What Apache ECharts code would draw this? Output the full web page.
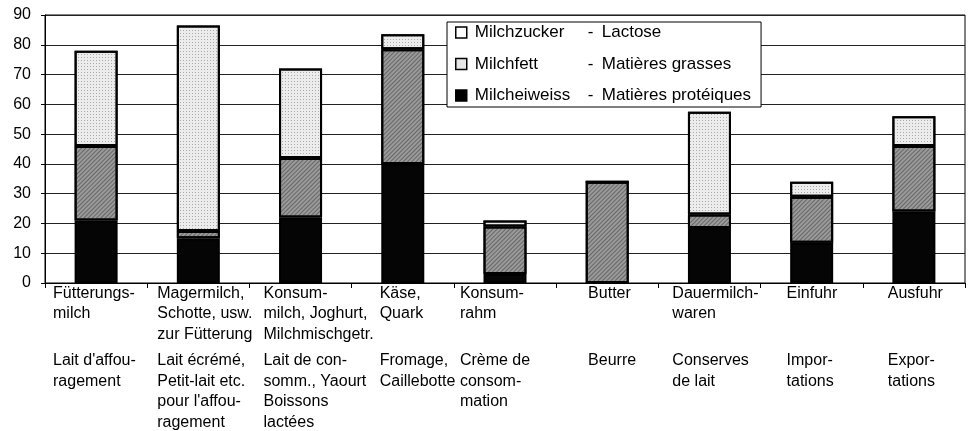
<!DOCTYPE html>
<html>
<head>
<meta charset="utf-8">
<script src="https://cdn.jsdelivr.net/npm/echarts@6/dist/echarts.min.js"></script>
<style>
html,body{margin:0;padding:0;background:#fff;}
#chart{width:973px;height:431px;}
</style>
</head>
<body>
<div id="chart"></div>
<script>
// ---- data ----
var categories = ["Fütterungsmilch","Magermilch, Schotte","Konsummilch","Käse, Quark","Konsumrahm","Butter","Dauermilchwaren","Einfuhr","Ausfuhr"];
var germanLabels = [
  ["Fütterungs-","milch"],
  ["Magermilch,","Schotte, usw.","zur Fütterung"],
  ["Konsum-","milch, Joghurt,","Milchmischgetr."],
  ["Käse,","Quark"],
  ["Konsum-","rahm"],
  ["Butter"],
  ["Dauermilch-","waren"],
  ["Einfuhr"],
  ["Ausfuhr"]
];
var frenchLabels = [
  ["Lait d'affou-","ragement"],
  ["Lait écrémé,","Petit-lait etc.","pour l'affou-","ragement"],
  ["Lait de con-","somm., Yaourt","Boissons","lactées"],
  ["Fromage,","Caillebotte"],
  ["Crème de","consom-","mation"],
  ["Beurre"],
  ["Conserves","de lait"],
  ["Impor-","tations"],
  ["Expor-","tations"]
];
var protein = [21, 15, 22, 40, 3, 0, 18.5, 13.5, 24];
var fat     = [25, 2.5, 20, 38.5, 16, 34, 4.5, 15.5, 22];
var lactose = [32, 69, 30, 5, 2, 0, 34.5, 5, 10];
var seriesNames = ["Milchzucker","Milchfett","Milcheiweiss"];
var seriesFrench = ["Lactose","Matières grasses","Matières protéiques"];
var yTicks = {min:0, max:90, interval:10};

// ---- layout helpers (label left offsets within each band) ----
var labelOffset = [8,10,14,28,6,32,14,26,25];
var TOTAL = 200;
var font = 'Liberation Sans';
var rich = {s:{lineHeight:6,fontSize:1}};
labelOffset.forEach(function(off,i){
  var p = off - 51.1 + TOTAL/2;
  rich['t'+i] = {align:'left', width: TOTAL - p, padding:[0,0,0,p], lineHeight:20.5, fontSize:16, fontFamily:font, color:'#000'};
});

var chart = echarts.init(document.getElementById('chart'), null, {renderer:'canvas'});
var option = {
  animation:false,
  backgroundColor:'#fff',
  textStyle:{fontFamily:font},
  grid:{left:45,right:8,top:15,bottom:148,containLabel:false,outerBoundsMode:'none',
    show:true,borderColor:'#000',borderWidth:1,backgroundColor:'transparent'},
  legend:{
    orient:'vertical', left:447, top:22,
    padding:[2,10,3,8],
    itemGap:14.5, itemWidth:11, itemHeight:11,
    backgroundColor:'#fff', borderColor:'#000', borderWidth:1,
    selectedMode:false,
    data:[
      {name:seriesNames[0], icon:'rect', itemStyle:{color:'#fff',borderColor:'#000',borderWidth:1.5,decal:'none'}},
      {name:seriesNames[1], icon:'rect', itemStyle:{color:'#e6e6e6',borderColor:'#000',borderWidth:1.5,decal:'none'}},
      {name:seriesNames[2], icon:'rect', itemStyle:{color:'#000',borderColor:'#000',borderWidth:1.5,decal:'none'}}
    ],
    formatter:function(name){
      var i = seriesNames.indexOf(name);
      return '{a|'+name+'}{b|-}{c|'+seriesFrench[i]+'}';
    },
    textStyle:{fontFamily:font,fontSize:17,color:'#000',lineHeight:17,
      rich:{a:{width:113,padding:[0,0,0,3],fontSize:17,lineHeight:17,fontFamily:font},
            b:{width:14,fontSize:17,lineHeight:17,fontFamily:font},
            c:{fontSize:17,lineHeight:17,fontFamily:font}}}
  },
  xAxis:{
    type:'category', data:categories,
    axisLine:{lineStyle:{color:'#000',width:1}},
    axisTick:{show:true,length:5,lineStyle:{color:'#000'}},
    axisLabel:{
      interval:0, margin:0, align:'center', verticalAlign:'top',
      fontFamily:font, fontSize:16, color:'#000',
      formatter:function(v,i){
        var g = germanLabels[i].slice();
        while(g.length<3) g.push(' ');
        var lines = g.map(function(t){return '{t'+i+'|'+t+'}';});
        lines.push('{s| }');
        frenchLabels[i].forEach(function(t){lines.push('{t'+i+'|'+t+'}');});
        return lines.join('\n');
      },
      rich:rich
    }
  },
  yAxis:{
    type:'value', min:yTicks.min, max:yTicks.max, interval:yTicks.interval,
    axisLine:{show:true,lineStyle:{color:'#000'}},
    axisTick:{show:true,length:4,lineStyle:{color:'#000'}},
    axisLabel:{fontFamily:font,fontSize:16,color:'#000',margin:14},
    splitLine:{show:true,lineStyle:{color:'#222',width:1}}
  },
  series:[
    {name:seriesNames[2], type:'bar', stack:'t', data:protein, barWidth:43,
      itemStyle:{color:'#050505',borderColor:'#000',borderWidth:2}},
    {name:seriesNames[1], type:'bar', stack:'t', data:fat, barWidth:43,
      itemStyle:{color:'#9a9a9a',borderColor:'#000',borderWidth:2,
        decal:{symbol:'rect',symbolSize:1,dashArrayX:[1,0],dashArrayY:[1,2],rotation:-Math.PI/4,color:'rgba(40,40,40,0.45)'}}},
    {name:seriesNames[0], type:'bar', stack:'t', data:lactose, barWidth:43,
      itemStyle:{color:'#ececec',borderColor:'#000',borderWidth:2,
        decal:{symbol:'rect',symbolSize:1,dashArrayX:[[1,2]],dashArrayY:[1,2],rotation:0,color:'rgba(90,90,90,0.45)'}}}
  ]
};
chart.setOption(option);
</script>
</body>
</html>
